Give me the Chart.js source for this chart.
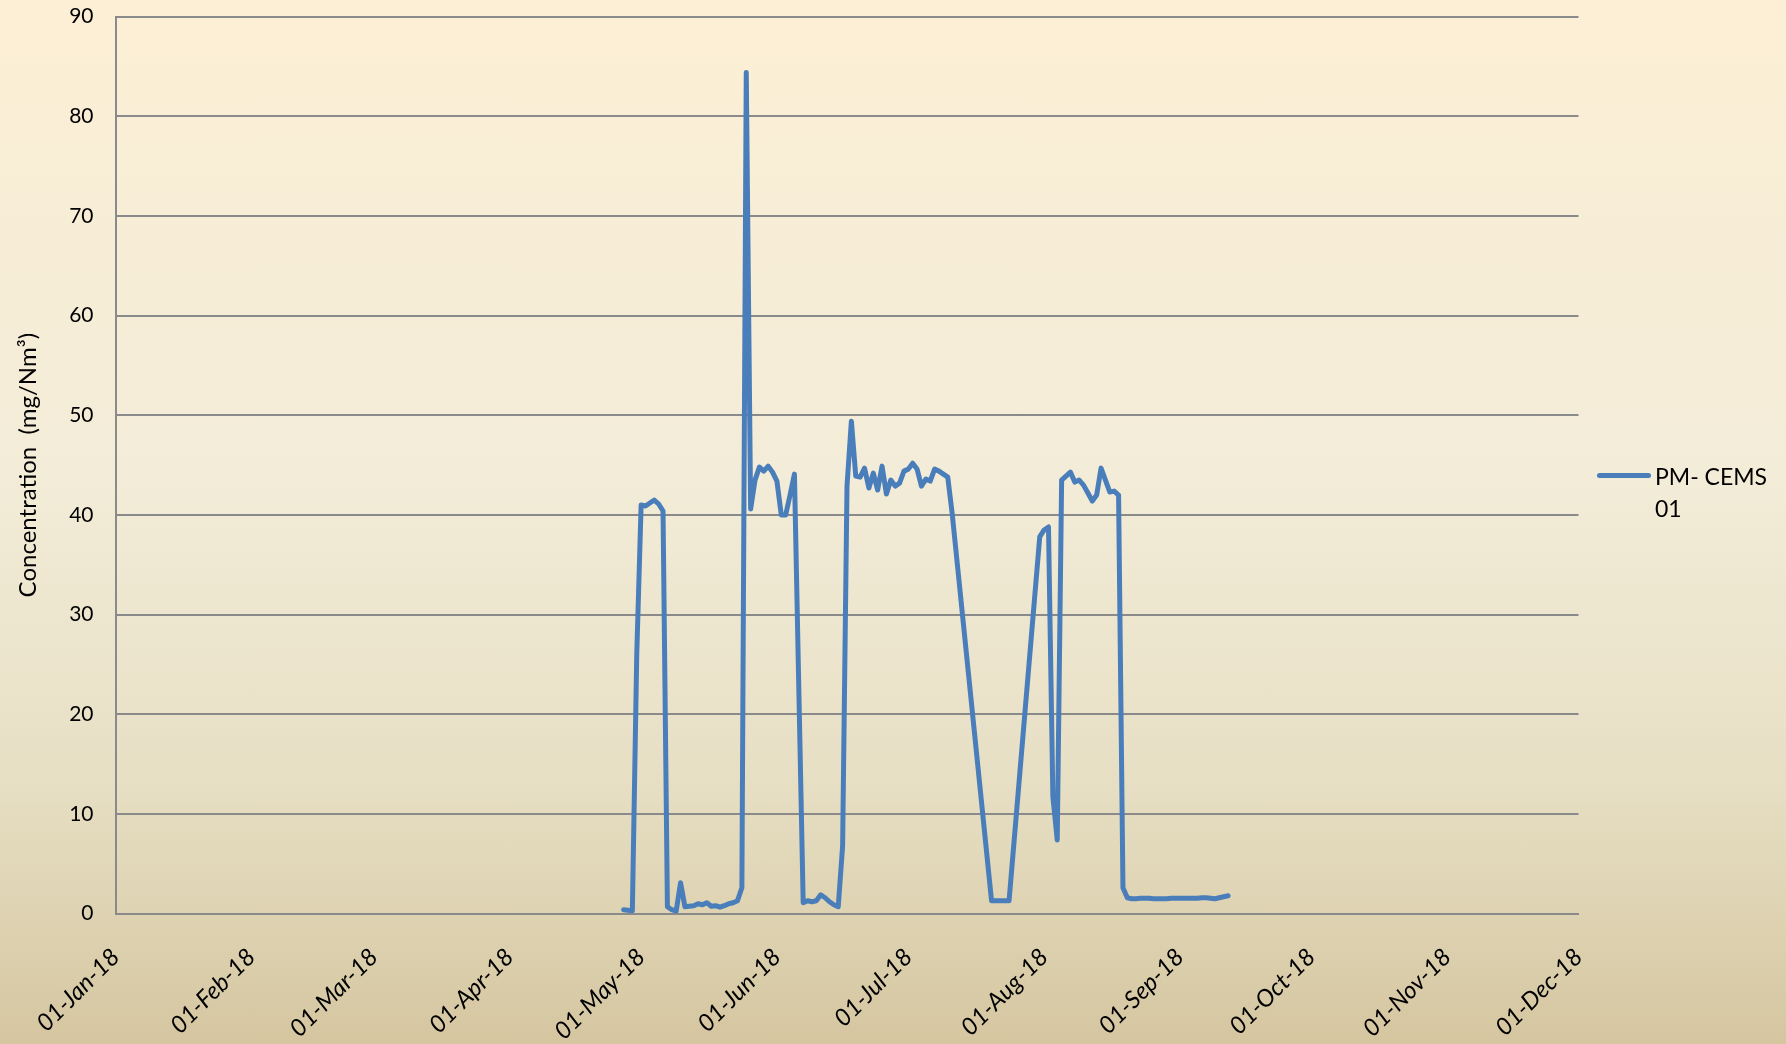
<!DOCTYPE html>
<html>
<head>
<meta charset="utf-8">
<title>PM CEMS 01</title>
<script src="https://cdn.jsdelivr.net/npm/chart.js@4.4.1/dist/chart.umd.min.js"></script>
<style>
  html, body { margin: 0; padding: 0; }
  body {
    width: 1786px; height: 1044px; overflow: hidden; position: relative;
    background: linear-gradient(to bottom, #fcefd5 0%, #f3ecd8 45%, #e7dfc4 75%, #d5c6a0 100%);
    font-family: Lato, sans-serif;
  }
  /* canvas digeser ke atas supaya garis 90 jatuh di y=16 */
  #grafik { position: absolute; left: 0; top: -18px; }
  #legend-line {
    position: absolute; left: 1597px; top: 473px; width: 54px; height: 5px;
    border-radius: 3px; background: #4a7ebb;
  }
  #legend-text {
    position: absolute; left: 1655px; top: 460px; width: 125px;
    font-size: 23px; line-height: 32px; color: #000;
  }
</style>
</head>
<body>
<canvas id="grafik" width="1786" height="1062"></canvas>
<div id="legend-line"></div>
<div id="legend-text">PM- CEMS 01</div>

<script>
// ======= Data (one reading per day from startDate, null = no reading) =======
const startDate = '2018-04-27';
const pm01 = [
  0.4, 0.35, 0.3, 26, 41.0, 40.9, 41.2, 41.5, 41.1, 40.4,      // 27 Apr - 06 May
  0.7, 0.4, 0.25, 3.1, 0.7, 0.75, 0.8, 1.0, 0.9, 1.1,           // 07 May - 16 May
  0.75, 0.8, 0.65, 0.8, 1.0, 1.1, 1.3, 2.6, 84.4, 40.6,         // 17 May - 26 May
  43.5, 44.8, 44.4, 44.9, 44.3, 43.4, 40.0, 40.0, 42.0, 44.1,   // 27 May - 05 Jun
  null, 1.1, 1.3, 1.2, 1.3, 1.9, 1.6, 1.2, 0.9, 0.7,            // 06 Jun - 15 Jun
  6.8, 42.9, 49.4, 43.9, 43.8, 44.7, 42.7, 44.2, 42.5, 44.9,    // 16 Jun - 25 Jun
  42.1, 43.5, 42.9, 43.2, 44.4, 44.6, 45.2, 44.6, 42.9, 43.6,   // 26 Jun - 05 Jul
  43.4, 44.6, 44.4, 44.1, 43.8, 40.2, null, null, null, null,   // 06 Jul - 15 Jul
  null, null, null, null, 1.3, 1.3, 1.3, 1.3, 1.3, null,        // 16 Jul - 25 Jul
  null, null, null, null, null, 37.8, 38.5, 38.8, 11.7, 7.4,    // 26 Jul - 04 Aug
  43.5, 43.9, 44.3, 43.3, 43.5, 43.0, 42.2, 41.4, 42.0, 44.7,   // 05 Aug - 14 Aug
  43.5, 42.3, 42.4, 42.0, 2.6, 1.6, 1.5, 1.5, 1.55, 1.55,       // 15 Aug - 24 Aug
  1.55, 1.5, 1.5, 1.5, 1.5, 1.55, 1.55, 1.55, 1.55, 1.55,       // 25 Aug - 03 Sep
  1.55, 1.55, 1.6, 1.6, 1.55, 1.5, 1.6, 1.7, 1.8                // 04 Sep - 12 Sep
];

// ======= Axis =======
const monthTicks = [0, 31, 59, 90, 120, 151, 181, 212, 243, 273, 304, 334];
const monthLabels = ['01-Jan-18', '01-Feb-18', '01-Mar-18', '01-Apr-18', '01-May-18', '01-Jun-18',
                     '01-Jul-18', '01-Aug-18', '01-Sep-18', '01-Oct-18', '01-Nov-18', '01-Dec-18'];
const yMin = 0, yMax = 90, yStep = 10;

// hari ke-n sejak 1 Jan 2018
const hariAwal = (Date.parse(startDate) - Date.UTC(2018, 0, 1)) / 86400000;
const titik = pm01.map((v, i) => ({ x: hariAwal + i, y: v }));

const abu = '#8a8a8a';
const huruf = 'Lato, sans-serif';

new Chart(document.getElementById('grafik').getContext('2d'), {
  type: 'line',
  data: {
    datasets: [{
      label: 'PM- CEMS 01',
      data: titik,
      borderColor: '#4a7ebb',
      borderWidth: 5,
      pointRadius: 0,
      tension: 0,
      spanGaps: true,
      borderJoinStyle: 'round',
      borderCapStyle: 'round'
    }]
  },
  options: {
    responsive: false,
    animation: false,
    devicePixelRatio: 1,
    layout: { autoPadding: false, padding: { top: 0, right: 207.5, left: 0, bottom: 0 } },
    plugins: { legend: { display: false }, tooltip: { enabled: false } },
    scales: {
      x: {
        type: 'linear',
        min: monthTicks[0],
        max: monthTicks[monthTicks.length - 1],
        afterBuildTicks: s => { s.ticks = monthTicks.map(v => ({ value: v })); },
        afterFit: s => { s.height = 130.3; },
        grid: { display: false },
        border: { display: true, color: abu, width: 2 },
        ticks: {
          autoSkip: false, minRotation: 45, maxRotation: 45, padding: 21, labelOffset: 0,
          color: '#000', font: { family: huruf, size: 24, style: 'italic' },
          callback: v => monthLabels[monthTicks.indexOf(v)]
        }
      },
      y: {
        min: yMin,
        max: yMax,
        afterFit: s => { s.width = 115.5; },
        grid: { color: abu, lineWidth: 2, drawTicks: false },
        border: { display: true, color: abu, width: 2 },
        ticks: { stepSize: yStep, padding: 22, color: '#000', font: { family: huruf, size: 21 } },
        title: {
          display: true, text: 'Concentration  (mg/Nm³)', color: '#000',
          font: { family: huruf, size: 24 }, padding: { top: 14, bottom: 0 }
        }
      }
    }
  }
});
</script>
</body>
</html>
